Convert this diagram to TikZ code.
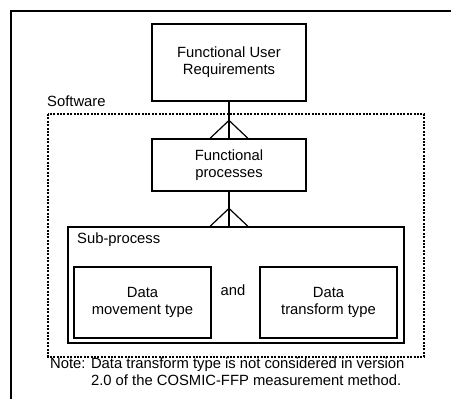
\documentclass[tikz,border=0pt]{standalone}
\usepackage{fontspec}
\setmainfont{Liberation Sans}
\usetikzlibrary{calc}
\begin{document}
\begin{tikzpicture}[x=1pt,y=-1pt,
  every node/.style={font=\fontsize{14.8}{17}\selectfont, inner sep=0pt},
  box/.style={draw, line width=1.2pt, align=center},
  ln/.style={line width=1.2pt},
  dotbox/.style={draw, line width=1.1pt, dash pattern=on 2pt off 1.4pt}]
\useasboundingbox (0,0) rectangle (451,399);
\clip (0,0) rectangle (451,399);
\fill[white] (0,0) rectangle (451,399);
\draw[ln] (11,11) rectangle (470,420);

\node[box, minimum width=154, minimum height=77] (fur) at (229,62.5) {Functional User\\Requirements};
\node[anchor=west] (sw) at (47,101) {Software};
\draw[dotbox] (48,114) rectangle (424,357);
\node[box, minimum width=154, minimum height=52] (fp) at (229,165) {Functional\\processes};
\node[draw, line width=1.2pt, minimum width=336, minimum height=116] (sub) at (236,285) {};
\node[anchor=west] (sublbl) at (77,240) {Sub-process};
\node[box, minimum width=137, minimum height=71] (dm) at (142.5,302.5) {Data\\movement type};
\node[box, minimum width=137, minimum height=71] (dt) at (328.5,302.5) {Data\\transform type};
\node (and) at (233,290) {and};

\draw[ln] (fur.south) -- (fp.north);
\coordinate (a1) at ($(fp.north)+(0,-18)$);
\draw[ln] ($(fp.north)+(-19,0)$) -- (a1) -- ($(fp.north)+(19,0)$);
\coordinate (b0) at (fp.south |- sub.north);
\draw[ln] (fp.south) -- (b0);
\coordinate (a2) at ($(b0)+(0,-18)$);
\draw[ln] ($(b0)+(-19,0)$) -- (a2) -- ($(b0)+(19,0)$);

\node[anchor=north west, align=left] (note) at (50,358) {Note: Data transform type is not considered in version\\\hphantom{Note: }2.0 of the COSMIC-FFP measurement method.};
\end{tikzpicture}
\end{document}
